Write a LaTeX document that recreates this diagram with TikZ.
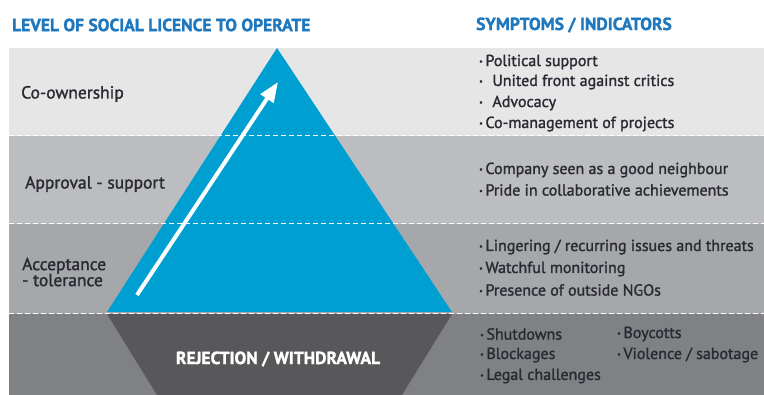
\documentclass[tikz,border=0pt]{standalone}
\usepackage{fontspec}
\setmainfont{PT Sans}[FakeBold=1.5]
\usetikzlibrary{arrows.meta}
\definecolor{bandA}{HTML}{E6E6E7}
\definecolor{bandB}{HTML}{BCBDC0}
\definecolor{bandC}{HTML}{A6A7AA}
\definecolor{bandD}{HTML}{808185}
\definecolor{pyr}{HTML}{009FD2}
\definecolor{darkpyr}{HTML}{58585A}
\definecolor{titleblue}{HTML}{1F78BE}
\definecolor{txt}{HTML}{2A2A33}
\tikzset{
  lvl/.style={anchor=west, inner sep=0pt, text=txt, font=\fontsize{17.5}{16}\selectfont, align=left},
  item/.style={anchor=west, inner sep=0pt, text=txt, font=\fontsize{16}{16}\selectfont},
  heading/.style={anchor=west, inner sep=0pt, text=titleblue, font=\bfseries\fontsize{17.5}{18}\selectfont},
  sep/.style={white, line width=1pt, dash pattern=on 5pt off 3pt},
}
\newcommand{\bul}{{\fontsize{8}{8}\selectfont\raisebox{2pt}{\textbullet}}\,}
\begin{document}
\begin{tikzpicture}[x=1pt,y=-1pt]
\useasboundingbox (0,0) rectangle (764,395);
% bands
\fill[bandA] (9,48) rectangle (764,136);
\fill[bandB] (9,136) rectangle (764,224);
\fill[bandC] (9,224) rectangle (764,314);
\fill[bandD] (9,314) rectangle (764,395);
% pyramid
\fill[pyr] (277,48) -- (452,312) -- (107,312) -- cycle;
\fill[darkpyr] (107,314) -- (452,314) -- (402,395) -- (157,395) -- cycle;
% separators
\draw[sep] (9,136) -- (764,136);
\draw[sep] (9,224) -- (764,224);
\draw[sep] (9,314) -- (764,314);
% arrow
\coordinate (arrowtail) at (137,295);
\coordinate (arrowtip) at (278,82);
\draw[white, line width=4pt, -{Triangle[width=15pt,length=20pt]}] (arrowtail) -- (arrowtip);
% headings
\node[heading] (h1) at (12,25) {LEVEL OF SOCIAL LICENCE TO OPERATE};
\node[heading] (h2) at (476,25) {SYMPTOMS / INDICATORS};
% levels
\node[lvl] (co) at (21,94) {Co-ownership};
\node[lvl] (ap) at (25,184) {Approval - support};
\node[lvl] (ac) at (22,272) {Acceptance\\- tolerance};
\node[anchor=center, inner sep=0pt, text=white, font=\bfseries\fontsize{17.5}{16}\selectfont] (rej) at (278,359) {REJECTION / WITHDRAWAL};
% indicators
\node[item] (i1) at (479,62) {\bul Political support};
\node[item] (i2) at (479,82) {\bul\, United front against critics};
\node[item] (i3) at (479,103) {\bul\, Advocacy};
\node[item] (i4) at (479,124) {\bul Co-management of projects};
\node[item] (i5) at (479,170) {\bul Company seen as a good neighbour};
\node[item] (i6) at (479,190) {\bul Pride in collaborative achievements};
\node[item] (i7) at (479,247) {\bul Lingering / recurring issues and threats};
\node[item] (i8) at (479,269) {\bul Watchful monitoring};
\node[item] (i9) at (479,290) {\bul Presence of outside NGOs};
\node[item] (i10) at (480,334) {\bul Shutdowns};
\node[item] (i11) at (480,355) {\bul Blockages};
\node[item] (i12) at (480,376) {\bul Legal challenges};
\node[item] (i13) at (617,334) {\bul Boycotts};
\node[item] (i14) at (617,355) {\bul Violence / sabotage};
\end{tikzpicture}
\end{document}
